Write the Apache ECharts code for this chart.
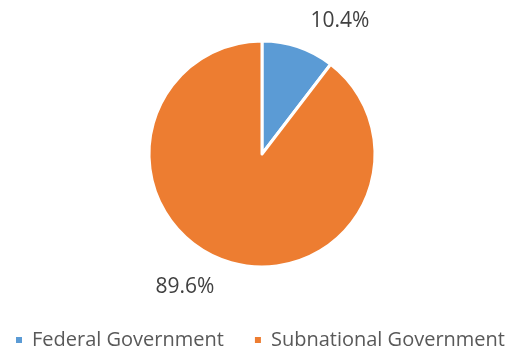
<!DOCTYPE html>
<html>
<head>
<meta charset="utf-8">
<script src="https://cdn.jsdelivr.net/npm/echarts@6/dist/echarts.min.js"></script>
<style>
  html, body { margin: 0; padding: 0; background: #fff; }
  #chart { width: 532px; height: 352px; }
</style>
</head>
<body>
<div id="chart"></div>
<script>
var categories = ['Federal Government', 'Subnational Government'];
var shares = [10.4, 89.6];
var colors = ['#5b9bd5', '#ed7d31'];
// where the data labels sit (Excel best-fit placement)
var labelSpots = [[340, 21], [185, 287]];

var chart = echarts.init(document.getElementById('chart'));
chart.setOption({
  animation: false,
  color: colors,
  textStyle: { fontFamily: 'Open Sans, Liberation Sans, sans-serif' },
  legend: {
    top: 330,
    left: 14,
    padding: 0,
    icon: 'rect',
    itemWidth: 8,
    itemHeight: 8,
    itemGap: 29,
    textStyle: { color: '#595959', fontSize: 20, lineHeight: 20, padding: [0, 0, 0, 4] },
    data: categories
  },
  series: [{
    type: 'pie',
    center: [262, 154],
    radius: [0, 113],
    startAngle: 90,
    clockwise: true,
    itemStyle: { borderColor: '#fff', borderWidth: 3 },
    label: {
      show: true,
      position: 'outside',
      formatter: function (p) { return p.value.toFixed(1) + '%'; },
      color: '#404040',
      fontSize: 21
    },
    labelLine: { show: false },
    labelLayout: function (p) {
      var s = labelSpots[p.dataIndex];
      return { x: s[0], y: s[1], align: 'center', verticalAlign: 'middle' };
    },
    data: categories.map(function (c, i) { return { name: c, value: shares[i] }; })
  }]
});
</script>
</body>
</html>
